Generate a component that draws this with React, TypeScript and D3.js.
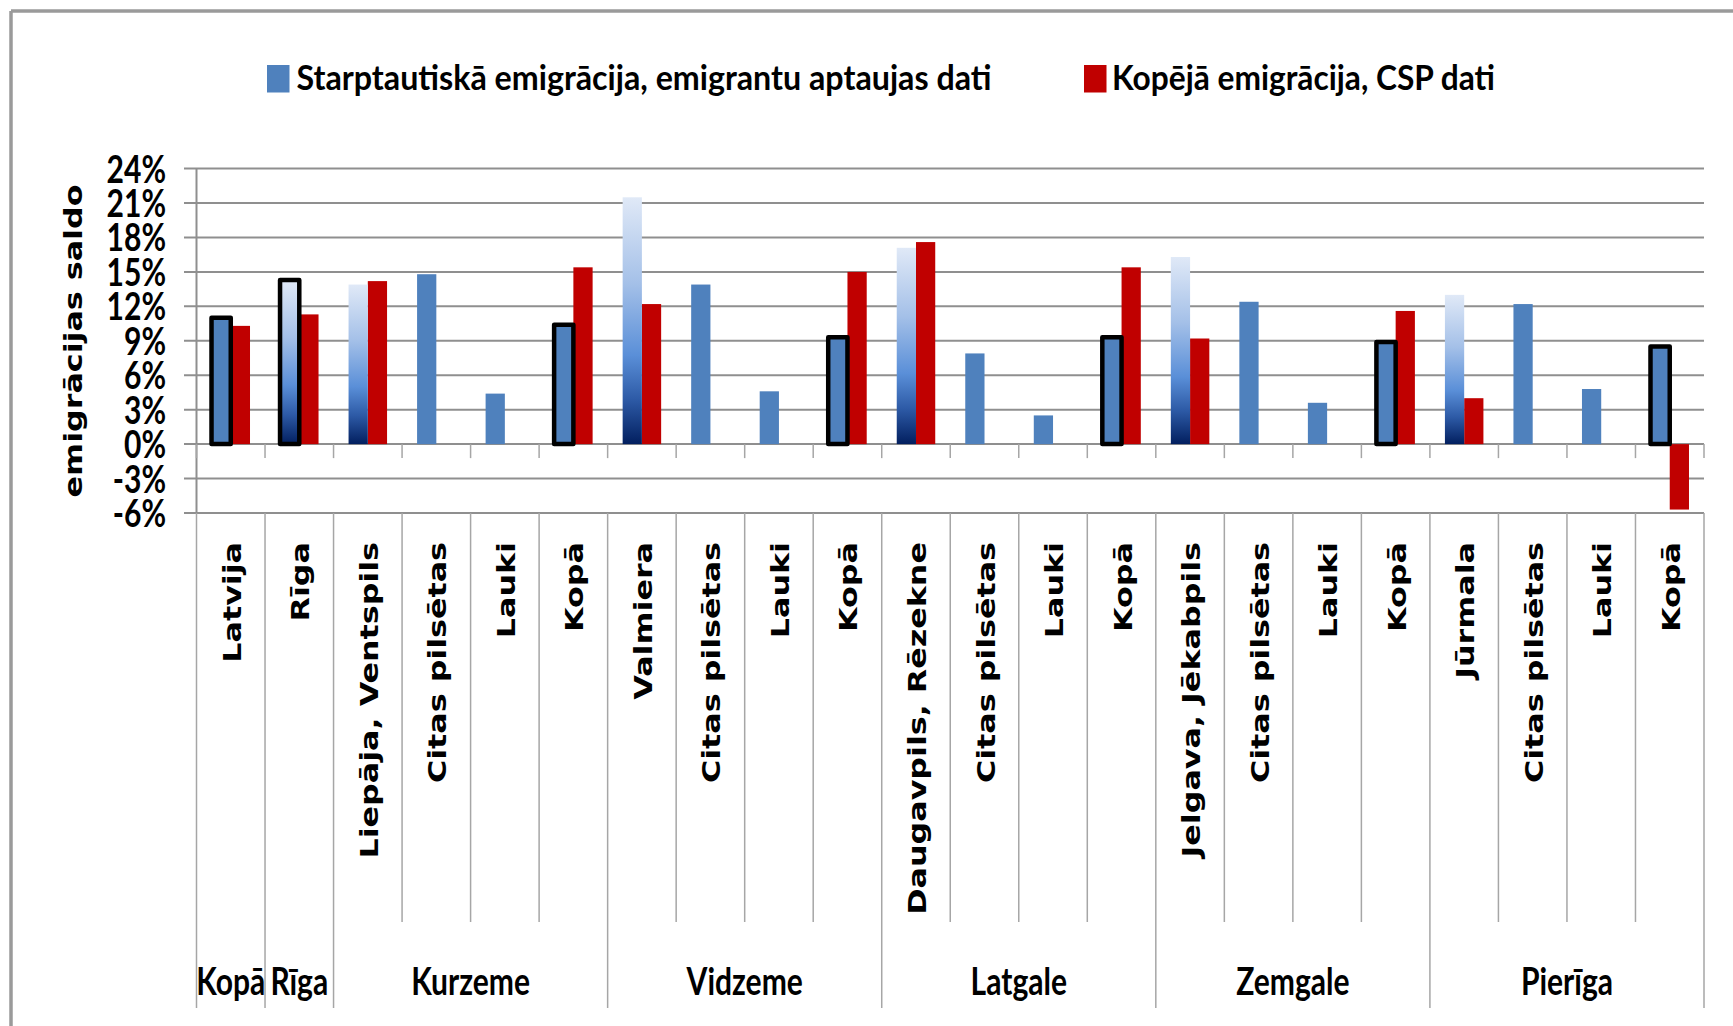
import * as d3 from 'd3'

// emigration balance by region, two sources
const groups = ['Kopā', 'Rīga', 'Kurzeme', 'Vidzeme', 'Latgale', 'Zemgale', 'Pierīga']
const categories = [
  'Latvija', 'Rīga',
  'Liepāja, Ventspils', 'Citas pilsētas', 'Lauki', 'Kopā',
  'Valmiera', 'Citas pilsētas', 'Lauki', 'Kopā',
  'Daugavpils, Rēzekne', 'Citas pilsētas', 'Lauki', 'Kopā',
  'Jelgava, Jēkabpils', 'Citas pilsētas', 'Lauki', 'Kopā',
  'Jūrmala', 'Citas pilsētas', 'Lauki', 'Kopā',
]
const categoryGroups = [
  'Kopā', 'Rīga',
  'Kurzeme', 'Kurzeme', 'Kurzeme', 'Kurzeme',
  'Vidzeme', 'Vidzeme', 'Vidzeme', 'Vidzeme',
  'Latgale', 'Latgale', 'Latgale', 'Latgale',
  'Zemgale', 'Zemgale', 'Zemgale', 'Zemgale',
  'Pierīga', 'Pierīga', 'Pierīga', 'Pierīga',
]
// Starptautiskā emigrācija, emigrantu aptaujas dati (%)
const surveyValues = [
  11.0, 14.3,
  13.9, 14.8, 4.4, 10.4,
  21.5, 13.9, 4.6, 9.3,
  17.1, 7.9, 2.5, 9.3,
  16.3, 12.4, 3.6, 8.9,
  13.0, 12.2, 4.8, 8.5,
]
// Kopējā emigrācija, CSP dati (%)
const cspValues: (number | null)[] = [
  10.3, 11.3,
  14.2, null, null, 15.4,
  12.2, null, null, 15.0,
  17.6, null, null, 15.4,
  9.2, null, null, 11.6,
  4.0, null, null, -5.7,
]
const seriesNames = ['Starptautiskā emigrācija, emigrantu aptaujas dati', 'Kopējā emigrācija, CSP dati']
const yTicks = [-6, -3, 0, 3, 6, 9, 12, 15, 18, 21, 24]
const yTitle = 'emigrācijas saldo'

const W = 1733
const H = 1026
const BLUE = '#4f81bd'
const RED = '#c00000'
const GRID = '#8f8f8f'
const LINE = '#a6a6a6'
const CAL = 'Lato, "Open Sans", sans-serif'
const VER = '"DejaVu Sans", Verdana, sans-serif'

export default function App() {
  const n = categories.length
  const x = d3.scaleBand<number>().domain(d3.range(n)).range([196.5, 1704]).padding(0)
  const x1 = d3.scaleBand<string>().domain(['survey', 'csp']).range([0, x.bandwidth()])
    .paddingInner(0).paddingOuter(0.78)
  const y = d3.scaleLinear().domain([-6, 24]).range([513, 168.6])
  const bw = x.bandwidth()
  const y0 = y(0)

  const isOutlined = (c: string) => c === 'Kopā' || c === 'Latvija' || c === 'Rīga'
  const isGradient = (c: string) => !['Kopā', 'Latvija', 'Citas pilsētas', 'Lauki'].includes(c)

  const edges = d3.range(n + 1).map(i => ({
    x: i < n ? (x(i) as number) : x.range()[1],
    group: i === 0 || i === n || categoryGroups[i] !== categoryGroups[i - 1],
  }))

  const groupSpans = groups.map(g => {
    const idx = categoryGroups.map((c, i) => (c === g ? i : -1)).filter(i => i >= 0)
    const x0 = x(idx[0]) as number
    const x2 = (x(idx[idx.length - 1]) as number) + bw
    return { name: g, cx: (x0 + x2) / 2 }
  })

  const barRect = (i: number, key: string, v: number) => {
    const bx = (x(i) as number) + (x1(key) as number)
    return { x: bx, y: Math.min(y(v), y0), w: x1.bandwidth(), h: Math.abs(y(v) - y0) }
  }

  return (
    <svg width={W} height={H} style={{ position: 'absolute', left: 0, top: 0, background: '#fff' }}>
      <defs>
        <linearGradient id="cityGrad" x1="0" y1="0" x2="0" y2="1">
          <stop offset="0" stopColor="#e0e9f7" />
          <stop offset="0.35" stopColor="#a4c0e8" />
          <stop offset="0.64" stopColor="#5a8fd8" />
          <stop offset="0.82" stopColor="#2d5aa6" />
          <stop offset="1" stopColor="#021f5f" />
        </linearGradient>
      </defs>
      <rect x={0} y={0} width={W} height={H} fill="#fff" />
      {/* chart frame (cut off at the right and bottom) */}
      <line x1={11} x2={W} y1={11} y2={11} stroke="#9a9a9a" strokeWidth={3.5} />
      <line x1={11} x2={11} y1={11} y2={H} stroke="#9a9a9a" strokeWidth={3.5} />

      {/* legend */}
      <rect x={267} y={65} width={22.5} height={27.5} fill={BLUE} />
      <text x={296.5} y={90} fontFamily={CAL} fontWeight={700} fontSize={34}
        textLength={695} lengthAdjust="spacingAndGlyphs">{seriesNames[0]}</text>
      <rect x={1084} y={65} width={22.5} height={27.5} fill={RED} />
      <text x={1112} y={90} fontFamily={CAL} fontWeight={700} fontSize={34}
        textLength={383} lengthAdjust="spacingAndGlyphs">{seriesNames[1]}</text>

      {/* gridlines and y labels */}
      {yTicks.map(t => (
        <g key={t}>
          <line x1={184} x2={1704} y1={y(t)} y2={y(t)} stroke={GRID} strokeWidth={2} />
          <g transform={`translate(166,${y(t) + 14}) scale(0.77,1)`}>
            <text x={0} y={0} textAnchor="end" fontFamily={CAL} fontWeight={700} fontSize={39}>
              {`${t}%`}
            </text>
          </g>
        </g>
      ))}
      <line x1={196.5} x2={196.5} y1={y(24)} y2={y(-6)} stroke={GRID} strokeWidth={2} />

      {/* y title */}
      <g transform={`translate(82,341) rotate(-90) scale(1.27,1)`}>
        <text x={0} y={0} textAnchor="middle" fontFamily={VER} fontWeight={700} fontSize={25}>{yTitle}</text>
      </g>

      {/* category tick marks and label-area dividers */}
      {edges.map((e, i) => (
        <g key={i}>
          <line x1={e.x} x2={e.x} y1={y0} y2={y0 + 14} stroke={LINE} strokeWidth={1.5} />
          <line x1={e.x} x2={e.x} y1={y(-6)} y2={e.group ? 1008 : 922} stroke={LINE} strokeWidth={1.5} />
        </g>
      ))}

      {/* red bars */}
      {cspValues.map((v, i) => {
        if (v === null) return null
        const r = barRect(i, 'csp', v)
        return <rect key={`c${i}`} x={r.x} y={r.y} width={r.w} height={r.h} fill={RED} />
      })}

      {/* blue bars */}
      {surveyValues.map((v, i) => {
        const r = barRect(i, 'survey', v)
        const c = categories[i]
        return (
          <rect key={`s${i}`} x={r.x} y={r.y} width={r.w} height={r.h}
            fill={isGradient(c) ? 'url(#cityGrad)' : BLUE}
            stroke={isOutlined(c) ? '#000' : 'none'} strokeWidth={4.5} strokeLinejoin="round" />
        )
      })}

      {/* rotated category labels */}
      {categories.map((c, i) => (
        <g key={`l${i}`} transform={`translate(${(x(i) as number) + bw / 2 + 10},542) rotate(-90) scale(1.27,1)`}>
          <text x={0} y={0} textAnchor="end" fontFamily={VER} fontWeight={700} fontSize={25}>{c}</text>
        </g>
      ))}

      {/* group labels */}
      {groupSpans.map(g => (
        <g key={g.name} transform={`translate(${g.cx},995) scale(0.77,1)`}>
          <text x={0} y={0} textAnchor="middle" fontFamily={CAL} fontWeight={700} fontSize={39}>{g.name}</text>
        </g>
      ))}
    </svg>
  )
}
